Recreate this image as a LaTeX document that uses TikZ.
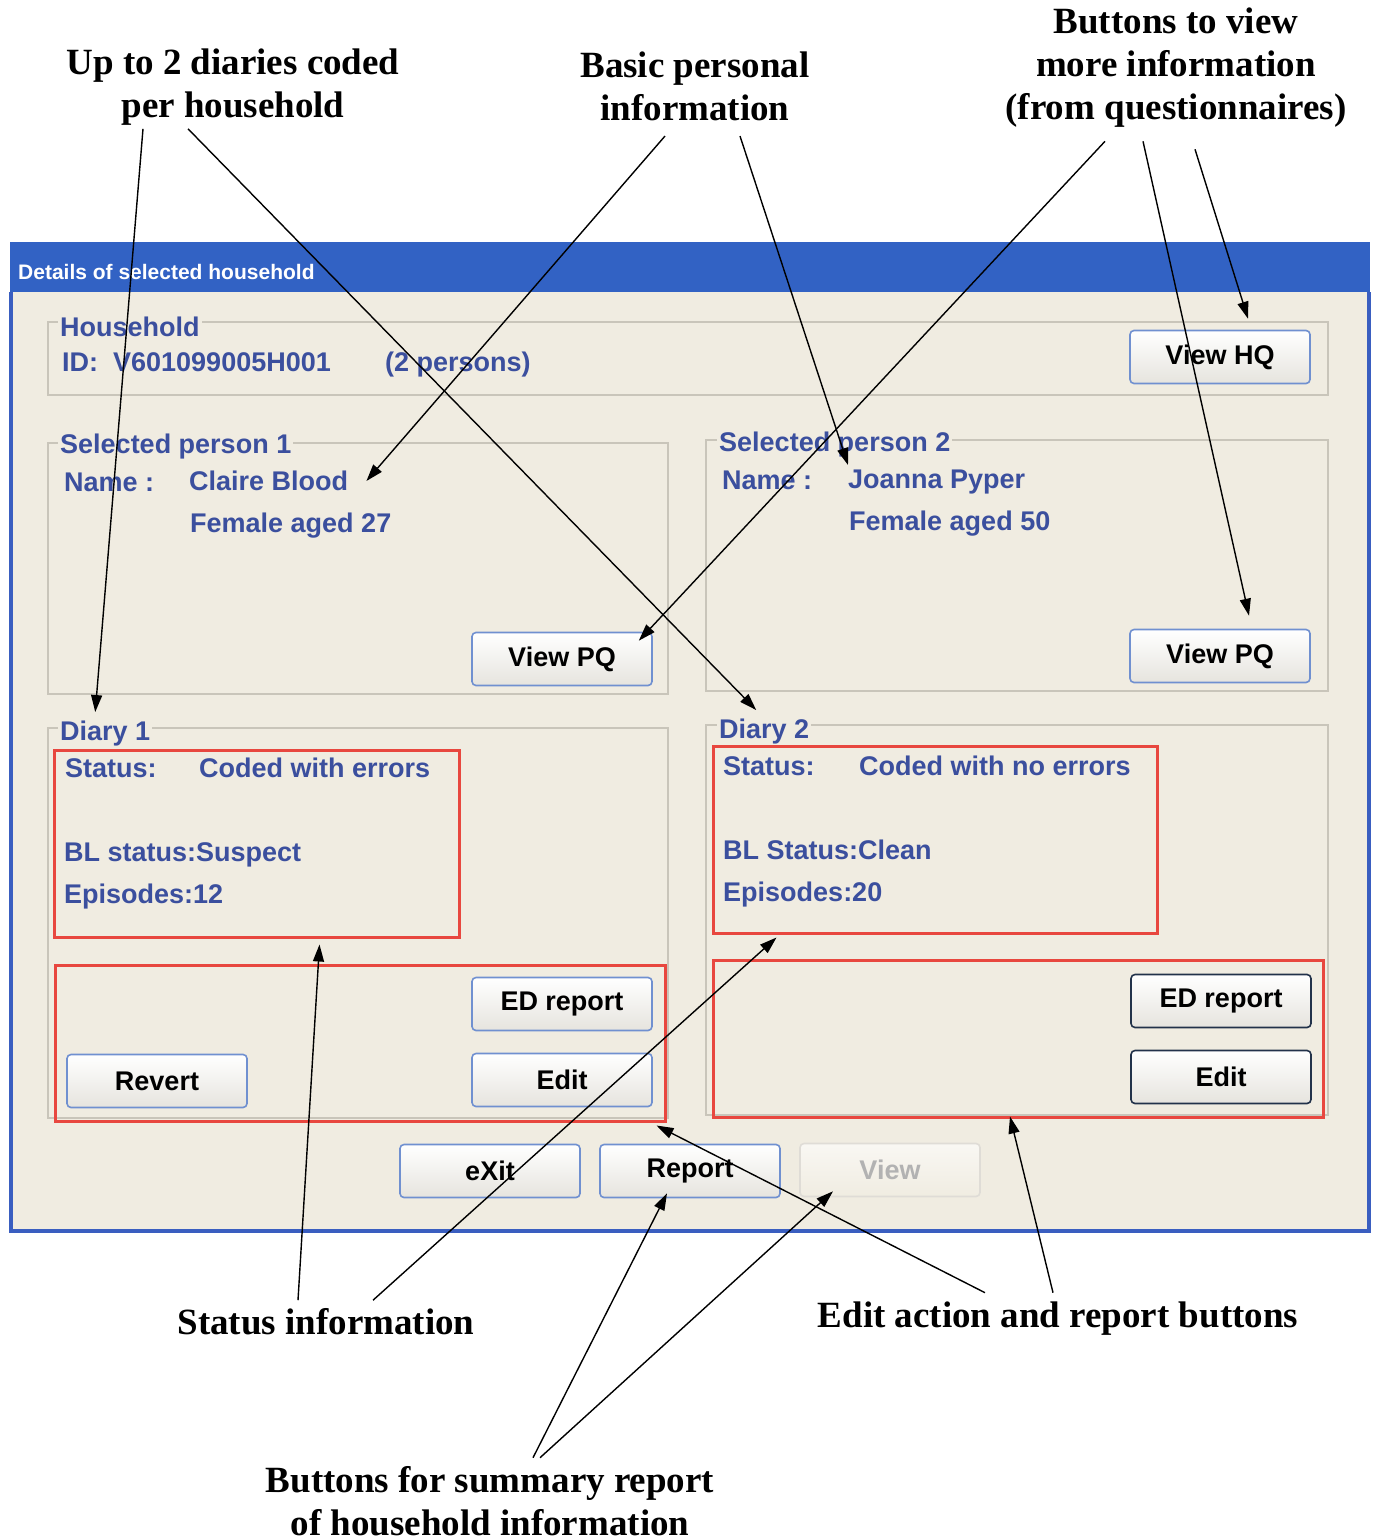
\documentclass[tikz,border=0pt]{standalone}
\usepackage{fontspec}
\setmainfont{Liberation Serif}
\newfontfamily\uisans{Liberation Sans}
\usepackage{tikz}
\usetikzlibrary{arrows.meta}
\usepackage{xcolor}

\definecolor{uiblue}{HTML}{3B4F9E}
\definecolor{titleblue}{HTML}{3262C4}
\definecolor{frameblue}{HTML}{3A5EC0}
\definecolor{winbg}{HTML}{F0ECE1}
\definecolor{grpgrey}{HTML}{C9C5BA}
\definecolor{btnblue}{HTML}{7090D0}
\definecolor{btndark}{HTML}{22324A}
\definecolor{btnshade}{HTML}{E6E4DE}
\definecolor{boxred}{HTML}{E8473F}

\tikzset{
  uitext/.style={font=\uisans\bfseries\fontsize{27}{31}\selectfont, text=uiblue, anchor=west, inner sep=0pt, text height=19.5pt, text depth=0pt},
  grplbl/.style={uitext, fill=winbg, inner xsep=2pt},
  grpbox/.style={draw=grpgrey, line width=1.2pt},
  redbox/.style={draw=boxred, line width=3pt, inner sep=0pt},
  btn/.style={draw=btnblue, line width=1.6pt, rounded corners=4pt, top color=white, bottom color=btnshade, minimum width=180pt, minimum height=53pt, font=\uisans\bfseries\fontsize{27}{31}\selectfont, text=black},
  note/.style={font=\bfseries\fontsize{37}{43}\selectfont, align=center},
  ptr/.style={-{Triangle[length=17pt,width=11pt]}, line width=1.4pt},
}

\begin{document}
\begin{tikzpicture}[x=1pt, y=-1pt]
\path[use as bounding box, fill=white] (0,0) rectangle (1376,1538);
% Window
\fill[winbg] (10,242) rectangle (1370,1232);
\fill[titleblue] (10,242) rectangle (1370,292);
\draw[frameblue, line width=3.5pt] (11,292) -- (11,1231) -- (1369,1231) -- (1369,292);
\node[anchor=west, inner sep=0pt, text=white, font=\uisans\bfseries\fontsize{21}{24}\selectfont] (title) at (18,272) {Details of selected household};
% Group boxes
\draw[grpbox] (48,322) rectangle (1328,395);
\draw[grpbox] (48,443) rectangle (668,694);
\draw[grpbox] (706,440) rectangle (1328,691);
\draw[grpbox] (48,728) rectangle (668,1118);
\draw[grpbox] (706,725) rectangle (1328,1115);
\node[grplbl] (hhlbl) at (58,327) {Household};
\node[grplbl] (p1lbl) at (58,444) {Selected person 1};
\node[grplbl] (p2lbl) at (717,442) {Selected person 2};
\node[grplbl] (d1lbl) at (58,731) {Diary 1};
\node[grplbl] (d2lbl) at (717,729) {Diary 2};
% Red boxes
\node[redbox, minimum width=405pt, minimum height=187pt] (stat1) at (256.5,843.5) {};
\node[redbox, minimum width=610pt, minimum height=156pt] (act1) at (360,1043) {};
\node[redbox, minimum width=444pt, minimum height=187pt] (stat2) at (935,839.5) {};
\node[redbox, minimum width=610pt, minimum height=157pt] (act2) at (1018,1038.5) {};
% Texts
\node[uitext] (hhid) at (62,362) {ID:\ \ V601099005H001};
\node[uitext] (hhsize) at (385,362) {(2 persons)};
\node[uitext] (name1lbl) at (64,482) {Name :};
\node[uitext] (name1) at (189,481) {Claire Blood};
\node[uitext] (age1) at (190,523) {Female aged 27};
\node[uitext] (name2lbl) at (722,480) {Name :};
\node[uitext] (name2) at (848,479) {Joanna Pyper};
\node[uitext] (age2) at (849,521) {Female aged 50};
\node[uitext] (st1lbl) at (65,768) {Status:};
\node[uitext] (st1) at (199,768) {Coded with errors};
\node[uitext] (bl1) at (64,852) {BL status:Suspect};
\node[uitext] (ep1) at (64,894) {Episodes:12};
\node[uitext] (st2lbl) at (723,766) {Status:};
\node[uitext] (st2) at (859,766) {Coded with no errors};
\node[uitext] (bl2) at (723,850) {BL Status:Clean};
\node[uitext] (ep2) at (723,892) {Episodes:20};
% Buttons
\node[btn] (hq) at (1220,357) {View HQ};
\node[btn] (pq1) at (562,659) {View PQ};
\node[btn] (pq2) at (1220,656) {View PQ};
\node[btn] (ed1) at (562,1004) {ED report};
\node[btn] (edit1) at (562,1080) {Edit};
\node[btn] (revert) at (157,1081) {Revert};
\node[btn, draw=btndark] (ed2) at (1221,1001) {ED report};
\node[btn, draw=btndark] (edit2) at (1221,1077) {Edit};
\node[btn] (exit) at (490,1171) {eXit};
\node[btn] (rep) at (690,1171) {Report};
\node[btn, draw=grpgrey!60, top color=winbg!40, bottom color=winbg, text=black!30] (view) at (890,1170) {View};
% Notes
\node[note] (nDiary) at (233,87) {Up to 2 diaries coded\\per household};
\node[note] (nPersonal) at (695,86) {Basic personal\\information};
\node[note] (nButtons) at (1176,68) {Buttons to view\\more information\\(from questionnaires)};
\node[note] (nStatus) at (326,1322) {Status information};
\node[note] (nEdit) at (1058,1319) {Edit action and report buttons};
\node[note] (nSummary) at (490,1501) {Buttons for summary report\\of household information};
% Arrows
\draw[ptr] ([xshift=-90pt]nDiary.south) -- ([xshift=-10pt,yshift=9pt]d1lbl.north);
\draw[ptr] ([xshift=-45pt]nDiary.south) -- ([xshift=-8pt,yshift=9pt]d2lbl.north);
\draw[ptr] ([xshift=-30pt,yshift=-12pt]nPersonal.south) -- ([xshift=18pt]name1.east);
\draw[ptr] ([xshift=45pt,yshift=-12pt]nPersonal.south) -- ([yshift=4pt]name2.north west);
\draw[ptr] ([xshift=-71pt,yshift=-10pt]nButtons.south) -- ([xshift=-14pt,yshift=-9pt]pq1.north east);
\draw[ptr] ([xshift=-33pt,yshift=-10pt]nButtons.south) -- ([xshift=29pt,yshift=13pt]pq2.north);
\draw[ptr] ([xshift=19pt,yshift=-18pt]nButtons.south) -- ([xshift=28pt,yshift=11pt]hq.north);
\draw[ptr] ([xshift=-28pt,yshift=5pt]nStatus.north) -- ([xshift=63pt,yshift=-6pt]stat1.south);
\draw[ptr] ([xshift=47pt,yshift=5pt]nStatus.north) -- ([xshift=65pt,yshift=-3pt]stat2.south west);
\draw[ptr] ([xshift=-73pt,yshift=6pt]nEdit.north) -- ([xshift=-10pt,yshift=-3pt]act1.south east);
\draw[ptr] ([xshift=-5pt,yshift=6pt]nEdit.north) -- ([xshift=-8pt,yshift=2pt]act2.south);
\draw[ptr] ([xshift=43pt,yshift=5pt]nSummary.north) -- ([xshift=-23pt,yshift=5pt]rep.south);
\draw[ptr] ([xshift=50pt,yshift=5pt]nSummary.north) -- ([xshift=-57pt,yshift=6pt]view.south);
\end{tikzpicture}
\end{document}
